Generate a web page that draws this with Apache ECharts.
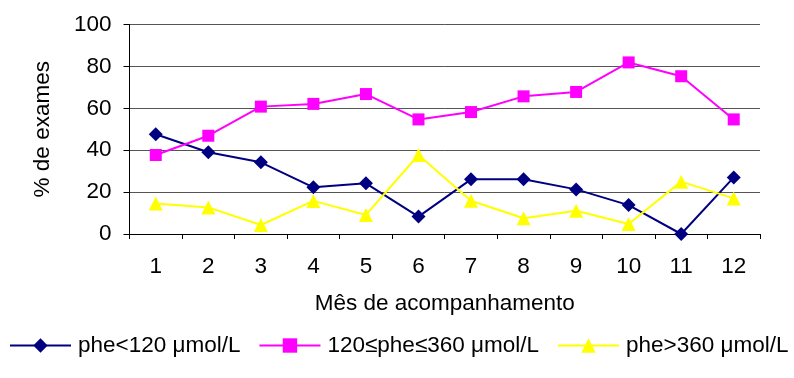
<!DOCTYPE html>
<html><head><meta charset="utf-8">
<script src="https://cdn.jsdelivr.net/npm/echarts@6/dist/echarts.min.js"></script>
<style>html,body{margin:0;padding:0;background:#fff}#c{width:794px;height:378px}</style>
</head><body><div id="c"></div>
<script>
const months = ['1','2','3','4','5','6','7','8','9','10','11','12'];
const low = [47.6, 39.0, 34.2, 22.3, 24.2, 8.3, 26.1, 26.1, 21.3, 13.8, 0, 27.0];
const mid = [37.7, 46.9, 60.8, 62.1, 66.8, 54.7, 58.2, 65.7, 67.8, 81.9, 75.3, 54.7];
const high = [14.6, 12.7, 4.3, 15.8, 9.1, 37.7, 15.9, 7.5, 11.1, 4.8, 25.0, 17.0];
const seriesNames = ['phe<120 μmol/L', '120≤phe≤360 μmol/L', 'phe>360 μmol/L'];
const yTicks = [0, 20, 40, 60, 80, 100];

const font = 'Liberation Sans, Arial, sans-serif';
const fs = 22.5;
const chart = echarts.init(document.getElementById('c'), null, {renderer: 'canvas'});
chart.setOption({
  animation: false,
  backgroundColor: '#fff',
  grid: {left: 129.5, right: 34, top: 24.5, bottom: 144, containLabel: false},
  legend: {
    left: 9, top: 334, itemWidth: 61, itemHeight: 18, itemGap: 18, padding: 0,
    textStyle: {fontFamily: font, fontSize: fs, color: '#000', padding: [0,0,0,2]},
    data: seriesNames
  },
  xAxis: {
    type: 'category', data: months, boundaryGap: true,
    name: 'Mês de acompanhamento', nameLocation: 'middle', nameGap: 58,
    nameTextStyle: {fontFamily: font, fontSize: fs, color: '#000'},
    axisLine: {lineStyle: {color: '#000', width: 1}},
    axisTick: {show: true, length: 5, lineStyle: {color: '#000'}},
    axisLabel: {fontFamily: font, fontSize: fs, color: '#000', margin: 21}
  },
  yAxis: {
    type: 'value', min: yTicks[0], max: yTicks[yTicks.length-1], interval: 20,
    name: '% de exames', nameLocation: 'middle', nameGap: 75, nameRotate: 90,
    nameTextStyle: {fontFamily: font, fontSize: fs, color: '#000'},
    axisLine: {show: true, lineStyle: {color: '#000', width: 1}},
    axisTick: {show: true, length: 6, lineStyle: {color: '#000'}},
    axisLabel: {fontFamily: font, fontSize: fs, color: '#000', margin: 18},
    splitLine: {show: true, lineStyle: {color: '#555', width: 1}}
  },
  series: [
    {name: seriesNames[0], type: 'line', data: low, symbol: 'diamond', symbolSize: 14,
     itemStyle: {color: '#000080'}, lineStyle: {color: '#000080', width: 2}},
    {name: seriesNames[1], type: 'line', data: mid, symbol: 'rect', symbolSize: 12,
     itemStyle: {color: '#FF00FF'}, lineStyle: {color: '#FF00FF', width: 2}},
    {name: seriesNames[2], type: 'line', data: high, symbol: 'triangle', symbolSize: 14,
     itemStyle: {color: '#FFFF00'}, lineStyle: {color: '#FFFF00', width: 2}}
  ]
});
</script></body></html>
